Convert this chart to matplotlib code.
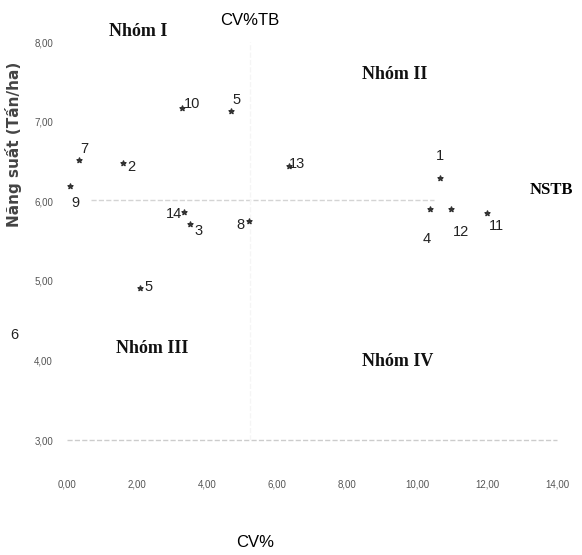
# Scatter of CV% vs yield with group quadrants
import matplotlib
matplotlib.use('Agg')
from matplotlib import pyplot as plt

# Data
ids = ['1', '2', '3', '4', '5', '5', '7', '8', '9', '10', '11', '12', '13', '14']
cv = [10.66, 1.60, 3.51, 10.37, 4.69, 2.09, 0.34, 5.20, 0.09, 3.29, 12.00, 10.97, 6.34, 3.34]
yld = [6.29, 6.48, 5.71, 5.91, 7.13, 4.91, 6.52, 5.75, 6.19, 7.17, 5.85, 5.90, 6.45, 5.86]
# label offsets (points) for each genotype number
offs = [(0, 16), (6, -3), (6, -5), (-2, -22), (4, 8), (6, 1), (4, 8), (-6, -3),
        (4, -12), (7, 3), (7, -9), (7, -16), (6, 1), (-7, -1)]

nstb = 6.02     # mean yield
cvtb = 5.23     # mean CV%

x_ticks = [0, 2, 4, 6, 8, 10, 12, 14]
y_ticks = [3, 4, 5, 6, 7, 8]

sans = ['Liberation Sans', 'DejaVu Sans']

fig = plt.figure(figsize=(5.82, 5.55), dpi=100)
ax = fig.add_axes([0.115, 0.207, 0.842, 0.717])
ax.set_xlim(0, 14)
ax.set_ylim(3, 8)

# reference lines (faint, like the scan)
ax.axhline(nstb, xmin=0.05, xmax=0.75, color='#d4d4d4', lw=1, ls='--')
ax.axvline(cvtb, color='#f5f5f5', lw=1, ls='--')
ax.axhline(3, color='#cccccc', lw=1, ls='--', clip_on=False)

ax.scatter(cv, yld, marker='*', s=14, color='#333333', zorder=3)
for i in range(len(ids)):
    ax.annotate(ids[i], (cv[i], yld[i]), xytext=offs[i], textcoords='offset points',
                ha='center', va='center', fontsize=10.5, family=sans, color='#222222')
# genotype 6 label sits outside the frame
ax.text(-1.5, 4.32, '6', fontsize=10.5, family=sans, color='#222222',
        ha='center', va='center', clip_on=False)

# group labels
grp = dict(fontsize=13, family='Liberation Serif', fontweight='bold', color='#111111',
           ha='center', va='center')
ax.text(2.04, 8.13, 'Nhóm I', **grp)
ax.text(9.37, 7.59, 'Nhóm II', **grp)
ax.text(2.43, 4.15, 'Nhóm III', **grp)
ax.text(9.46, 3.99, 'Nhóm IV', **grp)
ax.text(cvtb, 8.27, 'CV%TB', fontsize=12, family=sans, ha='center', va='center',
        clip_on=False)
ax.text(13.83, 6.14, 'NSTB', fontsize=12, family='Liberation Serif', fontweight='bold',
        ha='center', va='center', clip_on=False)

# axes text
ax.set_xticks(x_ticks)
ax.set_xticklabels([('%.2f' % v).replace('.', ',') for v in x_ticks], fontsize=7,
                   color='#555555', family=sans)
ax.set_yticks(y_ticks)
ax.set_yticklabels([('%.2f' % v).replace('.', ',') for v in y_ticks], fontsize=7,
                   color='#555555', family=sans)
ax.tick_params(length=0)
ax.tick_params(axis='x', pad=28)
ax.tick_params(axis='y', pad=10)
for s in ax.spines.values():
    s.set_visible(False)

fig.text(0.438, 0.022, 'CV%', fontsize=12, family=sans, ha='center', va='center')
fig.text(0.024, 0.74, 'Năng suất (Tấn/ha)', rotation=90, fontsize=11, fontweight='bold',
         color='#444444', ha='center', va='center')

plt.savefig('out.png', dpi=100)
